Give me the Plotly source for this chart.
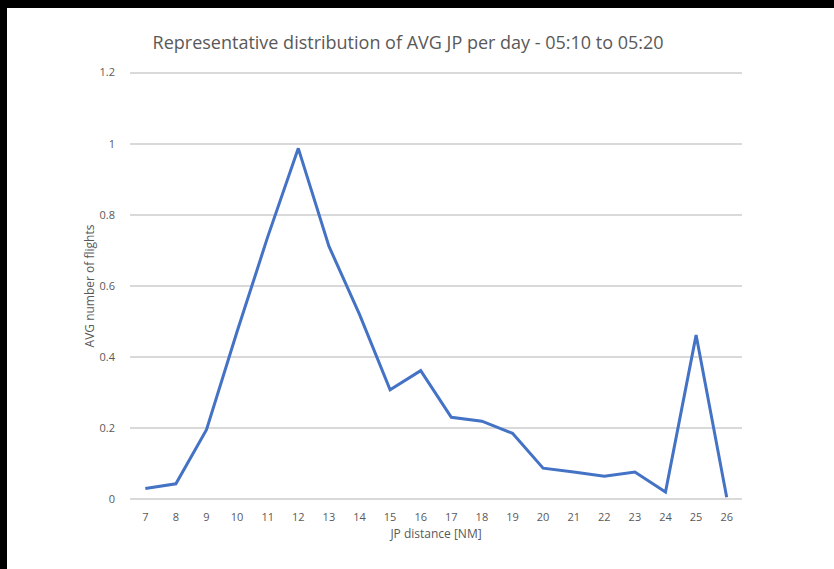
import plotly.graph_objects as go

# JP distance categories and average flights per day
jp_distance = [7, 8, 9, 10, 11, 12, 13, 14, 15, 16, 17, 18, 19, 20, 21, 22, 23, 24, 25, 26]
avg_flights = [0.031, 0.044, 0.196, 0.472, 0.738, 0.987, 0.712, 0.52, 0.308, 0.362,
               0.231, 0.22, 0.186, 0.088, 0.077, 0.065, 0.077, 0.021, 0.462, 0.006]

y_ticks = [0, 0.2, 0.4, 0.6, 0.8, 1, 1.2]
y_ticklabels = ["0", "0.2", "0.4", "0.6", "0.8", "1", "1.2"]

grey = "#595959"
font_family = "Open Sans, sans-serif"

fig = go.Figure()
fig.add_trace(go.Scatter(x=[str(v) for v in jp_distance], y=avg_flights, mode="lines",
                         line=dict(color="#4472C4", width=3), showlegend=False))

# white card sits 7px from the left and 8px from the top of a black page
fig.update_layout(
    width=827, height=561,
    margin=dict(l=123, r=92, t=61, b=66),
    paper_bgcolor="white", plot_bgcolor="white",
    font=dict(family=font_family, color=grey, size=11),
    title=dict(text="Representative distribution of AVG JP per day - 05:10 to 05:20",
               x=0.485, xanchor="center", y=0.9376, yanchor="middle",
               font=dict(size=18, color=grey, family=font_family)),
)
# category axis padded half a step on each side, like the original
fig.update_xaxes(type="category", range=[-0.5, len(jp_distance) - 0.5],
                 showgrid=False, showline=False, zeroline=False,
                 ticks="", tickfont=dict(size=11, color=grey), ticklabelstandoff=6,
                 title=dict(text="JP distance [NM]", font=dict(size=12, color=grey), standoff=6))
# small padding so plotly still draws the 0 and 1.2 gridlines
fig.update_yaxes(range=[-0.01, 1.21], tickvals=y_ticks, ticktext=y_ticklabels,
                 showgrid=True, gridcolor="#D9D9D9", gridwidth=1.5,
                 zeroline=False, showline=False, ticks="", ticklabelstandoff=14,
                 tickfont=dict(size=11, color=grey),
                 title=dict(text="AVG number of flights", font=dict(size=12, color=grey), standoff=2))

fig.write_html("out.html",
               post_script="document.body.style.background='black';"
                           "document.body.style.margin='8px 0 0 7px';"
                           "document.body.style.overflow='hidden';"
                           "document.documentElement.style.overflow='hidden';")
